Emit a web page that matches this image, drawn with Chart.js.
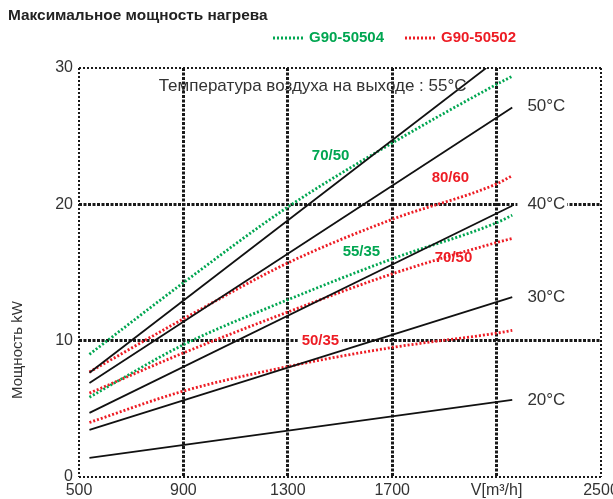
<!DOCTYPE html>
<html><head><meta charset="utf-8">
<script src="https://cdn.jsdelivr.net/npm/chart.js@4/dist/chart.umd.min.js"></script>
<style>html,body{margin:0;padding:0;background:#fff;}#wrap{width:613px;height:499px;position:relative;}</style>
</head><body><div id="wrap"><canvas id="c"></canvas></div>
<script>
// ---- text ----
const chartTitle = 'Максимальное мощность нагрева';
const yTitle = 'Мощность kW';
const subTitle = 'Температура воздуха на выходе : 55°C';
const seriesNames = ['G90-50504', 'G90-50502'];

// ---- ticks ----
const xTicks = [500, 900, 1300, 1700, 2100, 2500];
const xTickLabels = ['500', '900', '1300', '1700', 'V[m³/h]', '2500'];
const yTicks = [0, 10, 20, 30];

// ---- air outlet temperature lines (black) ----
const t55X = [540, 2060];  const t55Y = [7.65, 30.0];
const t50X = [540, 2160];  const t50Y = [6.9, 27.1];
const t40X = [540, 2160];  const t40Y = [4.7, 19.9];
const t30X = [540, 2160];  const t30Y = [3.45, 13.2];
const t20X = [540, 2160];  const t20Y = [1.4, 5.65];

// ---- coil lines ----
const coilX = [540, 900, 1300, 1700, 2100, 2160];
const g7050 = [9.0, 14.25, 19.8, 24.5, 28.8, 29.4];   // G90-50504 70/50
const g5535 = [5.85, 9.7, 13.0, 16.0, 18.65, 19.2];   // G90-50504 55/35
const r8060 = [7.7, 11.6, 15.7, 18.9, 21.5, 22.1];    // G90-50502 80/60
const r7050 = [6.15, 9.1, 12.1, 14.9, 17.2, 17.5];    // G90-50502 70/50
const r5035 = [4.0, 6.3, 8.1, 9.5, 10.55, 10.75];     // G90-50502 50/35

const GREEN = '#00a651', RED = '#ed1c24', BLACK = '#111111', TXT = '#333333';
const FONT = "'Liberation Sans', Arial, Helvetica, sans-serif";

const pts = (xs, ys) => xs.map((x, i) => ({x, y: ys[i]}));
const blackDs = (xs, ys) => ({data: pts(xs, ys), borderColor: BLACK, borderWidth: 1.8, pointRadius: 0, fill: false, tension: 0});
const coilDs = (ys, c) => ({data: pts(coilX, ys), borderColor: c, borderWidth: 2.8, borderDash: [2, 2], borderCapStyle: 'butt', pointRadius: 0, fill: false, cubicInterpolationMode: 'monotone'});

// annotation labels (placed in data units through the scales)
const labels = [
  {text: subTitle, x: 1395, y: 28.65, align: 'center', color: TXT, bold: false, size: 17},
  {text: '50°C', x: 2218, y: 27.2, align: 'left', color: TXT, bold: false, size: 17},
  {text: '40°C', x: 2218, y: 20.0, align: 'left', color: TXT, bold: false, size: 17, bg: [10, 2]},
  {text: '30°C', x: 2218, y: 13.2, align: 'left', color: TXT, bold: false, size: 17},
  {text: '20°C', x: 2218, y: 5.65, align: 'left', color: TXT, bold: false, size: 17},
  {text: '70/50', x: 1464, y: 23.55, align: 'center', color: GREEN, bold: true, size: 15},
  {text: '80/60', x: 1923, y: 21.93, align: 'center', color: RED, bold: true, size: 15},
  {text: '55/35', x: 1582, y: 16.53, align: 'center', color: GREEN, bold: true, size: 15},
  {text: '70/50', x: 1935, y: 16.06, align: 'center', color: RED, bold: true, size: 15},
  {text: '50/35', x: 1425, y: 10.0, align: 'center', color: RED, bold: true, size: 15, bg: [4, 3]}
];
const fontOf = l => (l.bold ? 'bold ' : '') + l.size + 'px ' + FONT;
function labelBox(ctx, l, sx, sy) {
  ctx.font = fontOf(l);
  const w = ctx.measureText(l.text).width;
  const px = sx.getPixelForValue(l.x), py = sy.getPixelForValue(l.y);
  const left = l.align === 'center' ? px - w / 2 : px;
  return {left, w, px, py};
}

const deco = {
  id: 'deco',
  beforeDatasetsDraw(chart) {
    const {ctx, scales: {x, y}} = chart;
    ctx.save();
    ctx.fillStyle = '#ffffff';
    labels.filter(l => l.bg).forEach(l => {
      const b = labelBox(ctx, l, x, y);
      ctx.fillRect(b.left - l.bg[0], b.py - 6, b.w + l.bg[0] + l.bg[1], 12);
    });
    ctx.restore();
  },
  afterDraw(chart) {
    const {ctx, scales: {x, y}} = chart;
    ctx.save();
    ctx.textBaseline = 'middle';
    labels.forEach(l => {
      const b = labelBox(ctx, l, x, y);
      ctx.fillStyle = l.color;
      ctx.textAlign = 'left';
      ctx.fillText(l.text, b.left, b.py);
    });
    // chart title
    ctx.font = 'bold 15.4px ' + FONT;
    ctx.fillStyle = '#222222';
    ctx.textAlign = 'left';
    ctx.fillText(chartTitle, 8, 16);
    // legend
    const legendItems = [{name: seriesNames[0], c: GREEN, x0: 273}, {name: seriesNames[1], c: RED, x0: 405}];
    legendItems.forEach(it => {
      ctx.strokeStyle = it.c; ctx.lineWidth = 2.8; ctx.setLineDash([2, 2]); ctx.lineCap = 'butt';
      ctx.beginPath(); ctx.moveTo(it.x0, 38); ctx.lineTo(it.x0 + 30, 38); ctx.stroke();
      ctx.setLineDash([]);
      ctx.fillStyle = it.c; ctx.font = 'bold 15px ' + FONT;
      ctx.fillText(it.name, it.x0 + 36, 38);
    });
    // y axis title
    ctx.translate(18, 350);
    ctx.rotate(-Math.PI / 2);
    ctx.textAlign = 'center';
    ctx.fillStyle = TXT;
    ctx.font = '15px ' + FONT;
    ctx.fillText(yTitle, 0, 0);
    ctx.restore();
  }
};

const isEdge = (ctx, lo, hi) => ctx.tick && (ctx.tick.value === lo || ctx.tick.value === hi);

new Chart(document.getElementById('c'), {
  type: 'line',
  data: {
    datasets: [
      blackDs(t55X, t55Y), blackDs(t50X, t50Y), blackDs(t40X, t40Y), blackDs(t30X, t30Y), blackDs(t20X, t20Y),
      coilDs(g7050, GREEN), coilDs(g5535, GREEN),
      coilDs(r8060, RED), coilDs(r7050, RED), coilDs(r5035, RED)
    ]
  },
  options: {
    responsive: true, maintainAspectRatio: false, animation: false,
    layout: {padding: {top: 68, right: 12, left: 0, bottom: 0}},
    plugins: {legend: {display: false}, tooltip: {enabled: false}, title: {display: false}},
    scales: {
      x: {
        type: 'linear', min: xTicks[0], max: xTicks[xTicks.length - 1],
        afterBuildTicks: s => { s.ticks = xTicks.map(v => ({value: v})); },
        ticks: {
          callback: v => { const i = xTicks.indexOf(v); return i >= 0 ? xTickLabels[i] : ''; },
          color: TXT, font: {family: FONT, size: 16}, padding: 4, maxRotation: 0, autoSkip: false
        },
        grid: {
          color: '#1a1a1a', drawTicks: false,
          lineWidth: c => isEdge(c, 500, 2500) ? 2 : 3
        },
        border: {display: false, dash: c => isEdge(c, 500, 2500) ? [2, 2] : [3, 1.5]},
        afterFit: s => { s.height = 22; s.paddingLeft = 0; s.paddingRight = 0; }
      },
      y: {
        type: 'linear', min: yTicks[0], max: yTicks[yTicks.length - 1],
        afterBuildTicks: s => { s.ticks = yTicks.map(v => ({value: v})); },
        ticks: {color: TXT, font: {family: FONT, size: 16}, padding: 6},
        grid: {
          color: '#1a1a1a', drawTicks: false,
          lineWidth: c => isEdge(c, 0, 30) ? 2 : 3
        },
        border: {display: false, dash: c => isEdge(c, 0, 30) ? [2, 2] : [3, 1.5]},
        afterFit: s => { s.width = 79; s.paddingTop = 0; s.paddingBottom = 0; }
      }
    }
  },
  plugins: [deco]
});
</script>
</body></html>
